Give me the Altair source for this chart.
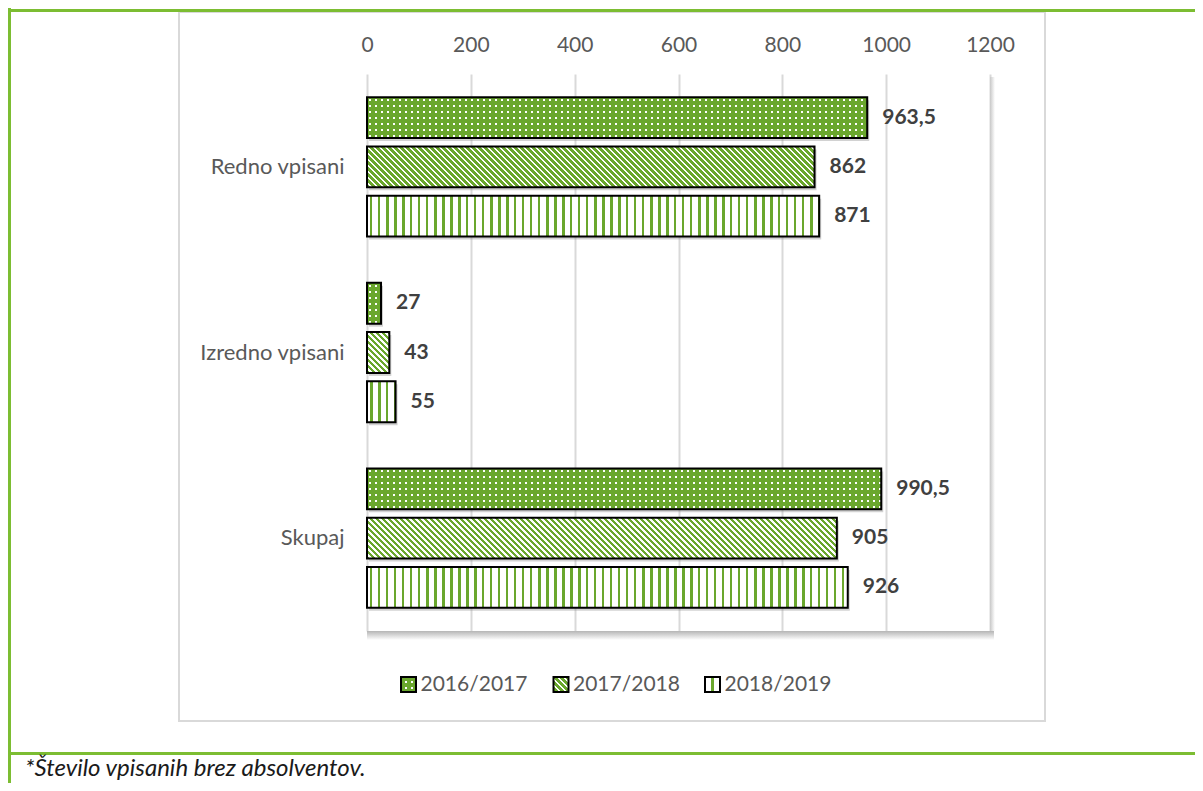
import math
import altair as alt
import pandas as pd

# ---------------- data ----------------
categories = ["Redno vpisani", "Izredno vpisani", "Skupaj"]
years = ["2016/2017", "2017/2018", "2018/2019"]
values_2016_17 = [963.5, 27, 990.5]
values_2017_18 = [862, 43, 905]
values_2018_19 = [871, 55, 926]
x_ticks = [0, 200, 400, 600, 800, 1000, 1200]
footnote = "*Število vpisanih brez absolventov."

series = dict(zip(years, [values_2016_17, values_2017_18, values_2018_19]))
df = pd.DataFrame(
    [{"category": c, "year": y, "value": v} for y in years for c, v in zip(categories, series[y])]
)
df["label"] = df["value"].map(lambda v: f"{v:g}".replace(".", ","))

# ---------------- layout / style ----------------
FONT = "Lato"
PLOT_W, PLOT_H = 623, 557
PAD_L, PAD_T = 359, 66
TOTAL_W, TOTAL_H = 1187, 775
X_MAX = 1200
BAND = PLOT_H / len(categories)
PAD_IN, PAD_OUT = 0.17, 0.47
STEP = BAND / (len(years) - PAD_IN + 2 * PAD_OUT)
BAR_H = STEP * (1 - PAD_IN)

GREEN = "#6aa72d"
GREEN_LINE = "#7cbd32"
WHITE = "#ffffff"
CLEAR = "rgba(255,255,255,0)"
LABEL_GREY = "#595959"


def px(page_x):
    return page_x - 8 - PAD_L


def py(page_y):
    return page_y - 8 - PAD_T


def stripe_stops(span, period, width, fg, bg, phase):
    stops = [(0.0, bg)]
    s = phase - period * math.ceil(phase / period)
    while s < span:
        a = min(max(s, 0.0), span) / span
        b = min(max(s + width, 0.0), span) / span
        if b > a:
            stops += [(a, bg), (a, fg), (b, fg), (b, bg)]
        s += period
    stops.append((1.0, bg))
    return [{"offset": round(o, 5), "color": c} for o, c in stops]


def grad(stops, x1=0, y1=0, x2=1, y2=0):
    return {"gradient": "linear", "x1": x1, "y1": y1, "x2": x2, "y2": y2, "stops": stops}


def vertical_stripes(w, h, phase=3):
    return [grad(stripe_stops(w, 8, 2.5, GREEN, WHITE, phase))]


def diagonal_stripes(w, h, phase=0):
    span = w + h
    al, be = w / span, -h / span
    n = al * al + be * be
    return [grad(stripe_stops(span, 6, 3.6, GREEN, WHITE, phase), 0, 1, al / n, 1 + be / n)]


def dots(w, h, phase=2):
    cols = grad(stripe_stops(w, 6, 2, WHITE, GREEN, phase))
    rows = grad(stripe_stops(h, 6, 2, CLEAR, GREEN, phase), 0, 0, 0, 1)
    return [cols, rows]


PATTERNS = {years[0]: dots, years[1]: diagonal_stripes, years[2]: vertical_stripes}

# ---------------- encodings ----------------
x_enc = alt.X(
    "value:Q",
    scale=alt.Scale(domain=[0, X_MAX], nice=False),
    axis=alt.Axis(
        orient="top", values=x_ticks, title=None, ticks=False, domain=False, grid=True,
        gridColor="#d9d9d9", gridWidth=2, labelFont=FONT, labelFontSize=21,
        labelColor=LABEL_GREY, labelPadding=19, format="d", labelFlush=False,
    ),
)
y_enc = alt.Y(
    "category:N",
    scale=alt.Scale(domain=categories, paddingInner=0, paddingOuter=0),
    axis=alt.Axis(
        title=None, ticks=False, domain=False, grid=False, labelFont=FONT,
        labelFontSize=22, labelColor=LABEL_GREY, labelPadding=23,
    ),
)
yo_enc = alt.YOffset(
    "year:N",
    scale=alt.Scale(type="band", domain=years, paddingInner=PAD_IN, paddingOuter=PAD_OUT),
)
yo_shadow = alt.YOffset(
    "year:N",
    scale=alt.Scale(type="band", domain=years, paddingInner=PAD_IN, paddingOuter=PAD_OUT,
                    range=[3, BAND + 3]),
)

layers = []

# bar shadows
layers.append(
    alt.Chart(df)
    .mark_bar(fill="#7f7f7f", opacity=0.35, xOffset=2, strokeWidth=0)
    .encode(x=x_enc, y=y_enc, yOffset=yo_shadow)
)

# patterned bars
for yr in years:
    for cat, v in zip(categories, series[yr]):
        w = v * PLOT_W / X_MAX
        fills = PATTERNS[yr](w, BAR_H)
        for i, f in enumerate(fills):
            last = i == len(fills) - 1
            kw = dict(stroke="#000000", strokeWidth=2) if last else dict(strokeWidth=0)
            layers.append(
                alt.Chart(df)
                .transform_filter((alt.datum.category == cat) & (alt.datum.year == yr))
                .mark_bar(fill=f, **kw)
                .encode(x=x_enc, y=y_enc, yOffset=yo_enc)
            )

# value labels
layers.append(
    alt.Chart(df)
    .mark_text(align="left", baseline="middle", dx=15, font=FONT, fontSize=21,
               fontWeight="bold", color="#404040")
    .encode(x=x_enc, y=y_enc, yOffset=yo_enc, text="label:N")
)


def deco():
    return alt.Chart(alt.Data(values=[{}]))


# plot-area shadow
layers.append(
    deco().mark_rect(fill=grad([{"offset": 0, "color": "#b5b5b5"}, {"offset": 1, "color": "#ffffff"}], 0, 0, 0, 1),
                     strokeWidth=0)
    .encode(x=alt.value(0), x2=alt.value(PLOT_W + 4), y=alt.value(PLOT_H), y2=alt.value(PLOT_H + 9))
)
layers.append(
    deco().mark_rect(fill=grad([{"offset": 0, "color": "#c8c8c8"}, {"offset": 1, "color": "#ffffff"}]),
                     strokeWidth=0)
    .encode(x=alt.value(PLOT_W), x2=alt.value(PLOT_W + 5), y=alt.value(3), y2=alt.value(PLOT_H))
)

# chart frame (grey)
layers.append(
    deco().mark_rect(fill="white", fillOpacity=0, stroke="#d9d9d9", strokeWidth=2)
    .encode(x=alt.value(px(179)), x2=alt.value(px(1045)), y=alt.value(py(12)), y2=alt.value(py(721)))
)

# green frame lines
layers.append(
    deco().mark_rule(color=GREEN_LINE, strokeWidth=3)
    .encode(x=alt.value(px(8)), x2=alt.value(px(1203)), y=alt.value(py(10.5)))
)
layers.append(
    deco().mark_rule(color=GREEN_LINE, strokeWidth=3)
    .encode(x=alt.value(px(9.5)), y=alt.value(py(8)), y2=alt.value(py(791)))
)
layers.append(
    deco().mark_rule(color=GREEN_LINE, strokeWidth=3)
    .encode(x=alt.value(px(8)), x2=alt.value(px(1203)), y=alt.value(py(753.5)))
)

# custom legend
legend_centers = [408.5, 561, 712.5]
legend_phase = {years[0]: 4, years[1]: 2, years[2]: 6}
cy = py(684.5)
for yr, cxp in zip(years, legend_centers):
    cx = px(cxp)
    fills = PATTERNS[yr](15, 15, phase=legend_phase[yr])
    for i, f in enumerate(fills):
        last = i == len(fills) - 1
        kw = dict(stroke="#000000", strokeWidth=2) if last else dict(strokeWidth=0)
        layers.append(
            deco().mark_rect(fill=f, **kw)
            .encode(x=alt.value(cx - 7.5), x2=alt.value(cx + 7.5),
                    y=alt.value(cy - 7.5), y2=alt.value(cy + 7.5))
        )
    layers.append(
        deco().mark_text(align="left", baseline="middle", font=FONT, fontSize=21, color=LABEL_GREY)
        .encode(x=alt.value(cx + 12), y=alt.value(cy), text=alt.value(yr))
    )

# footnote
layers.append(
    deco().mark_text(align="left", baseline="alphabetic", font=FONT, fontSize=24,
                     fontStyle="italic", color="#1a1a1a")
    .encode(x=alt.value(px(25)), y=alt.value(py(776)), text=alt.value(footnote))
)

chart = (
    alt.layer(*layers)
    .properties(
        width=PLOT_W,
        height=PLOT_H,
        autosize=alt.AutoSizeParams(type="none"),
        padding={"left": PAD_L, "top": PAD_T,
                 "right": TOTAL_W - PAD_L - PLOT_W, "bottom": TOTAL_H - PAD_T - PLOT_H},
        background="white",
    )
    .resolve_scale(yOffset="independent")
    .configure_view(strokeWidth=0)
)

chart.save("out.html", embed_options={"renderer": "svg", "actions": False})
